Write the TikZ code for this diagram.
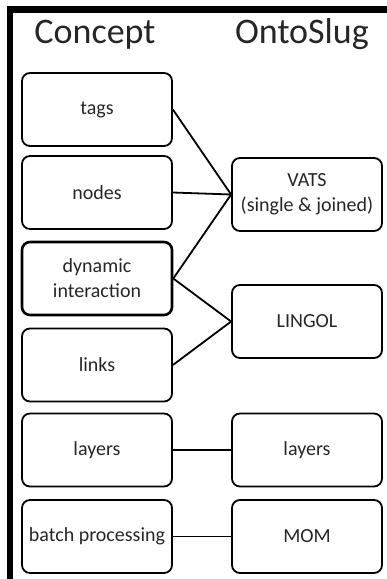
\documentclass[tikz,border=0pt]{standalone}
\usepackage{fontspec}
\setmainfont{Carlito}
\usepackage{tikz}
\usetikzlibrary{positioning}
\usepackage{xcolor}
\definecolor{TextGray}{HTML}{262626}

\begin{document}
\begin{tikzpicture}[x=1pt, y=-1pt,
    box/.style={draw, line width=1.8pt, rounded corners=8pt, minimum width=150pt, minimum height=73pt,
                align=center, text=TextGray, font=\fontsize{20}{25}\selectfont},
    heading/.style={anchor=base, text=TextGray, font=\fontsize{36}{40}\selectfont},
    link/.style={line width=1.8pt}]
    \useasboundingbox (0,0) rectangle (387,579);

    % Frame on the left and top
    \draw[line width=6.5pt] (10,579) -- (10,9.5) -- (387,9.5);

    % Headings
    \node[heading] (hconcept) at (95,43) {Concept};
    \node[heading] (honto) at (302,43) {OntoSlug};

    % Concept column
    \foreach \name/\y/\txt in {tags/109.5/tags, nodes/192.5/nodes, links/365/links,
                               layersC/450/layers, batch/536.5/batch processing} {
        \node[box] (\name) at (97,\y) {\txt};
    }
    \node[box, line width=2.6pt] (dyn) at (97,278.5) {dynamic\\interaction};

    % OntoSlug column
    \node[box] (vats) at (307,194.5) {VATS\\(single \& joined)};
    \node[box] (lingol) at (307,321.5) {LINGOL};
    \node[box] (layersO) at (307,450) {layers};
    \node[box] (mom) at (307,536.5) {MOM};

    % Mappings
    \foreach \from/\to in {tags/vats, nodes/vats, dyn/vats, dyn/lingol, links/lingol, layersC/layersO, batch/mom} {
        \draw[link] (\from.east) -- (\to.west);
    }
\end{tikzpicture}
\end{document}
